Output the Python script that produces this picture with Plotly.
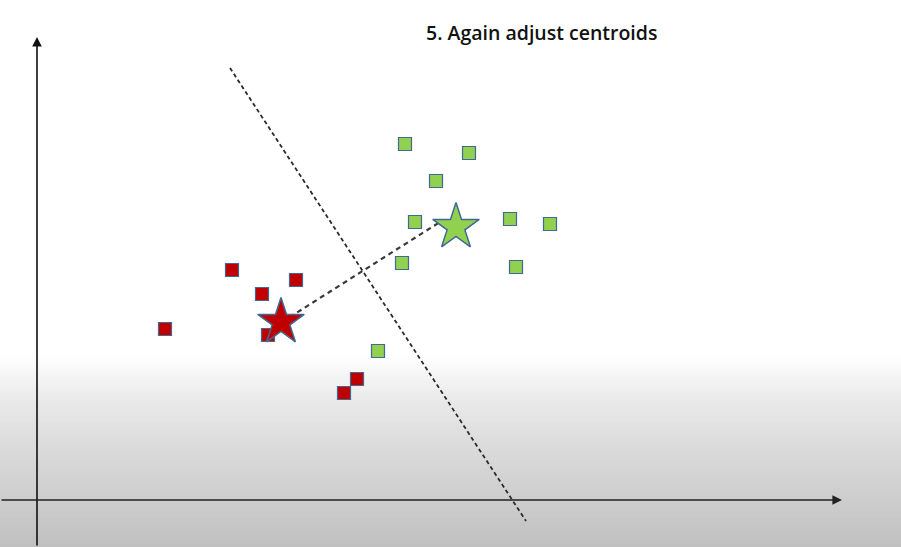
import plotly.graph_objects as go
import numpy as np

# ---- data (arbitrary units, origin at axes intersection) ----
red_x = [19.5, 25.9, 22.5, 12.8, 23.1, 32.0, 30.7]
red_y = [23.0, 22.0, 20.6, 17.1, 16.5, 12.1, 10.7]
green_x = [36.8, 43.2, 39.9, 37.8, 47.3, 51.3, 36.5, 47.9, 34.1]
green_y = [35.6, 34.7, 31.9, 27.8, 28.1, 27.6, 23.7, 23.3, 14.9]
red_centroid = (24.4, 17.8)
green_centroid = (41.9, 27.3)
sep_x = [19.3, 48.9]
sep_y = [43.2, -2.1]
link_x = [24.5, 40.3]
link_y = [17.8, 27.8]
title_text = "5. Again adjust centroids"

W, H = 901, 547
X0, Y0, S = 37, 500, 10.0  # pixel origin and pixels per unit
xr = [(0 - X0) / S, (W - X0) / S]
yr = [(Y0 - H) / S, Y0 / S]

RED = "#C00000"
GREEN = "#92D050"
EDGE = "#3F6A94"

fig = go.Figure()

fig.add_trace(go.Scatter(x=sep_x, y=sep_y, mode="lines",
                         line=dict(color="#2a2a2a", width=1.8, dash="4px,3px"),
                         hoverinfo="skip"))
fig.add_trace(go.Scatter(x=link_x, y=link_y, mode="lines",
                         line=dict(color="#3a3a3a", width=2.2, dash="5px,4px"),
                         hoverinfo="skip"))
fig.add_trace(go.Scatter(x=red_x, y=red_y, mode="markers",
                         marker=dict(symbol="square", size=13, color=RED,
                                     line=dict(color=EDGE, width=1.2))))
fig.add_trace(go.Scatter(x=green_x, y=green_y, mode="markers",
                         marker=dict(symbol="square", size=13, color=GREEN,
                                     line=dict(color=EDGE, width=1.2))))
fig.add_trace(go.Scatter(x=[red_centroid[0]], y=[red_centroid[1]], mode="markers",
                         marker=dict(symbol="star", size=35, color=RED,
                                     line=dict(color=EDGE, width=1.5))))
fig.add_trace(go.Scatter(x=[green_centroid[0]], y=[green_centroid[1]], mode="markers",
                         marker=dict(symbol="star", size=35, color=GREEN,
                                     line=dict(color=EDGE, width=1.5))))

# background gradient (white -> light gray at the bottom)
ctrl_px = [0, 355, 400, 450, 500, 547]
ctrl_v = [255, 255, 234, 218, 205, 192]
shapes = []
n = 80
ys = np.linspace(350, H, n + 1)
for i in range(n):
    mid = (ys[i] + ys[i + 1]) / 2
    v = int(round(np.interp(mid, ctrl_px, ctrl_v)))
    shapes.append(dict(type="rect", xref="paper", yref="paper",
                       x0=0, x1=1, y0=1 - ys[i + 1] / H - 0.001, y1=1 - ys[i] / H + 0.001,
                       fillcolor=f"rgb({v},{v},{v})", line=dict(width=0), layer="below"))

annotations = [
    # y axis arrow
    dict(x=0, y=(Y0 - 37) / S, ax=0, ay=yr[0], xref="x", yref="y", axref="x", ayref="y",
         showarrow=True, arrowhead=2, arrowsize=1.2, arrowwidth=1.6, arrowcolor="#111111", text=""),
    # x axis arrow
    dict(x=(842 - X0) / S, y=0, ax=xr[0], ay=0, xref="x", yref="y", axref="x", ayref="y",
         showarrow=True, arrowhead=2, arrowsize=1.2, arrowwidth=1.6, arrowcolor="#222222", text=""),
    dict(x=541 / W, y=1 - 33 / H, xref="paper", yref="paper", text=title_text,
         showarrow=False, font=dict(family="Open Sans", size=19.5, color="#111111", weight=600),
         xanchor="center", yanchor="middle"),
]

fig.update_layout(
    width=W, height=H, margin=dict(l=0, r=0, t=0, b=0),
    paper_bgcolor="white", plot_bgcolor="rgba(0,0,0,0)",
    showlegend=False,
    xaxis=dict(range=xr, visible=False, fixedrange=True),
    yaxis=dict(range=yr, visible=False, fixedrange=True),
    shapes=shapes, annotations=annotations,
)

fig.write_html("out.html")
